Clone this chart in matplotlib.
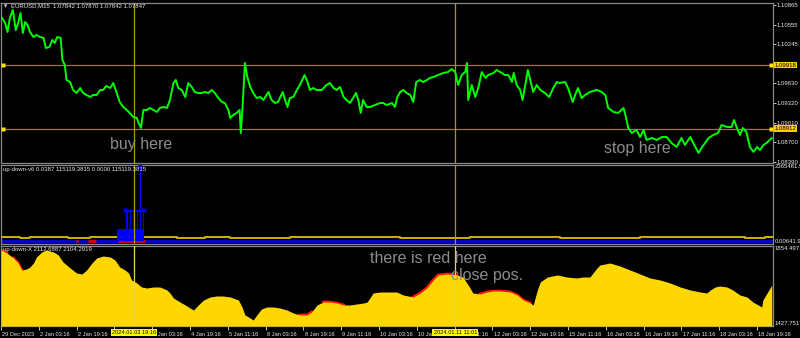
import matplotlib
matplotlib.use('Agg')
import matplotlib.pyplot as plt
import matplotlib.transforms as mtrans
import numpy as np

plt.rcParams['font.family'] = ['Liberation Sans', 'DejaVu Sans']

# ---------------- data ----------------
price_bars = [
    2, 7, 11, 15, 20, 25, 29, 33, 37, 41,
    45, 49, 55, 60, 66, 72, 76, 82, 87, 91,
    95, 101, 104, 108, 111, 117, 122, 128, 134, 139,
    145, 151, 156, 162, 168, 173, 178, 185, 190, 196,
    201, 207, 213, 218, 224, 230, 233, 237, 241, 247,
    252, 258, 264, 269, 275, 281, 286, 292, 296, 300,
    306, 312, 317, 323, 328, 334, 340, 345, 351, 357,
    362, 368, 374, 379, 385, 388, 393, 399, 404, 406,
    409, 413, 417, 422, 427, 433, 439, 444, 453, 458,
    464, 469, 477, 481, 485, 489, 495, 501, 506, 514,
    519, 523, 529, 534, 543, 551, 557, 563, 568, 574,
    580, 585, 591, 597, 601, 605, 609, 613, 619, 625,
    633, 642, 647, 653, 662, 667, 671, 676, 681, 687,
    693, 698, 703, 709, 715, 721, 726, 732, 740, 749,
    757, 763, 769, 774, 780, 786, 789, 791, 797, 803,
    808, 814, 820, 825, 834, 839, 848, 853, 859, 865,
    868, 873, 879, 883, 887, 892, 896, 901, 907, 913,
    921, 928, 935, 941, 946, 955, 960, 968, 972, 977,
    983, 989, 997, 1009, 1017, 1023, 1028, 1037, 1045, 1054,
    1058, 1062, 1068, 1076, 1082, 1088, 1093, 1102, 1110, 1119,
    1127, 1135, 1144, 1152, 1158, 1167, 1172, 1181, 1186, 1192,
    1198, 1206, 1214, 1220, 1229, 1237, 1241, 1246, 1251, 1256,
    1262, 1268, 1274, 1280, 1285, 1291, 1296, 1305]
price_vals = [
    1.10664, 1.10585, 1.10443, 1.10664, 1.10791, 1.10474, 1.10585, 1.10743, 1.10427, 1.10601,
    1.10553, 1.10443, 1.10363, 1.10395, 1.10363, 1.10348, 1.10189, 1.10205, 1.10316, 1.10268,
    1.10363, 1.10348, 1.09999, 1.09920, 1.09683, 1.09651, 1.09525, 1.09477, 1.09556, 1.09477,
    1.09446, 1.09414, 1.09446, 1.09446, 1.09525, 1.09525, 1.09588, 1.09556, 1.09635, 1.09477,
    1.09335, 1.09256, 1.09208, 1.09161, 1.09097, 1.09082, 1.09002, 1.08923, 1.09208, 1.09208,
    1.09240, 1.09208, 1.09177, 1.09240, 1.09256, 1.09240, 1.09366, 1.09635, 1.09683, 1.09556,
    1.09525, 1.09414, 1.09635, 1.09572, 1.09493, 1.09477, 1.09477, 1.09493, 1.09477, 1.09525,
    1.09477, 1.09398, 1.09335, 1.09319, 1.09208, 1.09082, 1.09129, 1.09161, 1.09208, 1.08844,
    1.09256, 1.09952, 1.09730, 1.09572, 1.09477, 1.09398, 1.09414, 1.09366, 1.09493, 1.09366,
    1.09319, 1.09335, 1.09493, 1.09366, 1.09256, 1.09398, 1.09414, 1.09525, 1.09604, 1.09762,
    1.09651, 1.09525, 1.09556, 1.09525, 1.09525, 1.09604, 1.09635, 1.09556, 1.09525, 1.09572,
    1.09414, 1.09366, 1.09319, 1.09414, 1.09477, 1.09366, 1.09161, 1.09366, 1.09256, 1.09256,
    1.09287, 1.09319, 1.09319, 1.09287, 1.09319, 1.09256, 1.09414, 1.09493, 1.09525, 1.09477,
    1.09446, 1.09335, 1.09651, 1.09683, 1.09651, 1.09683, 1.09715, 1.09730, 1.09762, 1.09794,
    1.09809, 1.09857, 1.09809, 1.09604, 1.09762, 1.09809, 1.09952, 1.09366, 1.09604, 1.09414,
    1.09556, 1.09809, 1.09715, 1.09762, 1.09794, 1.09841, 1.09794, 1.09762, 1.09762, 1.09651,
    1.09794, 1.09604, 1.09525, 1.09366, 1.09572, 1.09841, 1.09683, 1.09493, 1.09604, 1.09525,
    1.09477, 1.09414, 1.09556, 1.09651, 1.09635, 1.09651, 1.09556, 1.09335, 1.09446, 1.09556,
    1.09398, 1.09446, 1.09493, 1.09525, 1.09493, 1.09446, 1.09240, 1.09177, 1.09161, 1.09240,
    1.09097, 1.08923, 1.08844, 1.08892, 1.08781, 1.08892, 1.08734, 1.08765, 1.08734, 1.08781,
    1.08781, 1.08686, 1.08623, 1.08765, 1.08655, 1.08781, 1.08686, 1.08528, 1.08607, 1.08686,
    1.08765, 1.08813, 1.08844, 1.08971, 1.08939, 1.08939, 1.09050, 1.08923, 1.08813, 1.08923,
    1.08860, 1.08623, 1.08544, 1.08623, 1.08575, 1.08655, 1.08686, 1.08765]

price_ticks = [1.10865, 1.10555, 1.10245, 1.09630, 1.09320, 1.09010, 1.08700, 1.08390]
hlines_levels = [1.09918, 1.08912]
vline_bars = [225, 769]
vline_labels = ['2024.01.03 19:16', '2024.01.11 11:01']

# indicator 1 (up-down-v6)
yel_bars = [0, 32, 49, 113, 151, 298, 345, 388, 489, 675, 794, 946, 1082, 1260, 1293, 1306]
yel_vals = [115119, 78000, 115119, 78000, 115119, 78000, 115119, 78000, 115119, 90000,
            115119, 78000, 115119, 78000, 115119, 115119]
blue_level = 0.0387
sub1_red_ranges = [(127, 130), (147, 160), (198, 243)]
hist_low_bars = list(range(198, 241, 2))
hist_low_val = 373500
hist_tall_bars = [211, 213, 218, 224, 230, 235, 240]
hist_tall_val = 933750
spike_bar = 236
spike_val = 2303250
cap_range = (209, 242)
xmark_bars = [210, 242, 236]
xmark_vals = [950000, 950000, 2330000]

# indicator 2 (up-down-X)
x_bars = [
    0, 10, 21, 29, 35, 43, 49, 55, 60, 69,
    77, 89, 97, 105, 117, 128, 137, 145, 154, 162,
    173, 185, 193, 201, 210, 216, 221, 230, 238, 247,
    258, 269, 281, 286, 292, 303, 312, 320, 326, 334,
    343, 354, 365, 376, 388, 402, 408, 413, 419, 427,
    433, 441, 450, 461, 472, 484, 495, 506, 518, 526,
    535, 546, 557, 568, 580, 591, 602, 614, 620, 630,
    642, 659, 670, 681, 698, 710, 721, 732, 740, 755,
    772, 782, 791, 799, 811, 823, 833, 845, 862, 874,
    884, 896, 901, 908, 913, 925, 942, 958, 975, 985,
    997, 1009, 1014, 1031, 1048, 1065, 1082, 1099, 1116, 1133,
    1150, 1167, 1184, 1195, 1201, 1209, 1217, 1229, 1239, 1251,
    1263, 1273, 1282, 1288, 1290, 1297, 1305]
x_vals = [
    1833.2, 1817.2, 1790.5, 1763.8, 1726.5, 1731.8, 1742.5, 1763.8, 1795.8, 1822.5,
    1833.2, 1822.5, 1806.5, 1769.2, 1737.2, 1710.5, 1705.1, 1726.5, 1763.8, 1790.5,
    1801.2, 1795.8, 1779.8, 1742.5, 1726.5, 1710.5, 1673.1, 1657.1, 1635.8, 1630.5,
    1635.8, 1635.8, 1619.8, 1603.8, 1577.1, 1555.8, 1539.8, 1523.8, 1513.1, 1539.8,
    1566.5, 1582.5, 1587.8, 1587.8, 1582.5, 1566.5, 1529.1, 1486.5, 1475.8, 1459.8,
    1486.5, 1518.5, 1529.1, 1529.1, 1523.8, 1513.1, 1497.1, 1486.5, 1486.5, 1502.5,
    1539.8, 1555.8, 1555.8, 1550.5, 1539.8, 1539.8, 1545.1, 1550.5, 1555.8, 1603.8,
    1609.1, 1609.1, 1609.1, 1593.1, 1582.5, 1603.8, 1630.5, 1673.1, 1699.8, 1705.1,
    1699.8, 1689.1, 1646.5, 1603.8, 1598.5, 1609.1, 1614.5, 1614.5, 1609.1, 1593.1,
    1566.5, 1550.5, 1539.8, 1619.8, 1662.5, 1689.1, 1699.8, 1689.1, 1683.8, 1689.1,
    1689.1, 1737.2, 1753.2, 1763.8, 1747.8, 1726.5, 1705.1, 1683.8, 1673.1, 1657.1,
    1635.8, 1619.8, 1609.1, 1603.8, 1619.8, 1635.8, 1641.1, 1635.8, 1619.8, 1593.1,
    1582.5, 1555.8, 1539.8, 1529.1, 1566.5, 1603.8, 1646.5]
x_red_ranges = [(0, 12), (18, 37), (500, 530), (545, 580), (690, 775), (805, 900)]
x_max, x_min = 1854.4971, 1427.7517

time_tick_bars = list(range(0, 1281, 64))
time_labels = ['29 Dec 2023', '2 Jan 03:16', '2 Jan 19:16', '3 Jan 11:16', '4 Jan 03:16',
               '4 Jan 19:16', '5 Jan 11:16', '8 Jan 03:16', '8 Jan 19:16', '9 Jan 11:16',
               '10 Jan 03:16', '10 Jan 19:16', '11 Jan 11:16', '12 Jan 03:16', '12 Jan 19:16',
               '15 Jan 11:16', '16 Jan 03:16', '16 Jan 19:16', '17 Jan 11:16', '18 Jan 03:16',
               '18 Jan 19:16']

# ---------------- figure ----------------
W, H = 800, 338
fig = plt.figure(figsize=(W / 100, H / 100), dpi=100, facecolor='black')


def ax_px(x0, y0, x1, y1):
    a = fig.add_axes([x0 / W, 1 - y1 / H, (x1 - x0) / W, (y1 - y0) / H])
    a.set_facecolor('black')
    for s in a.spines.values():
        s.set_color('#8a8a8a')
        s.set_linewidth(0.9)
    return a


XL = (0, 1306.2)
ax1 = ax_px(1, 2.5, 772.5, 162.5)
ax2 = ax_px(1, 164.5, 772.5, 243.5)
ax3 = ax_px(1, 245.5, 772.5, 326)
for a in (ax1, ax2, ax3):
    a.set_xlim(*XL)
    a.set_xticks([])
    a.set_yticks([])

VCOL = '#B09A00'
HCOL = '#9A8000'
WHITE = '#e8e8e8'
SMALL = 4.3

# main price panel
ax1.set_ylim(1.083773, 1.109093)
ax1.plot(price_bars, price_vals, color='#00FF00', lw=1.4, zorder=3)
for lv in hlines_levels:
    ax1.axhline(lv, color=HCOL, lw=0.9, zorder=2)
    tr = mtrans.blended_transform_factory(ax1.transAxes, ax1.transData)
    ax1.plot([0.002, 0.998], [lv, lv], 's', ms=2.4, color='#FFE000', mec='none',
             transform=tr, clip_on=False, zorder=5)
    ax1.text(1.003, lv, f'{lv:.5f}', transform=tr, fontsize=SMALL, color='black',
             va='center', ha='left',
             bbox=dict(boxstyle='square,pad=0.12', fc='#FFCC00', ec='none'), zorder=6)
for vb in vline_bars:
    ax1.axvline(vb, color=VCOL, lw=0.9, zorder=2)
ax1.yaxis.tick_right()
ax1.set_yticks(price_ticks)
ax1.set_yticklabels([f'{t:.5f}' for t in price_ticks])
ax1.tick_params(axis='y', colors=WHITE, length=2, width=0.6, labelsize=SMALL, pad=0.6)

ax1.text(238, 1.08670, 'buy here', fontsize=11.5, color='#8c8c8c', ha='center', va='center', zorder=7)
ax1.text(1078, 1.08591, 'stop here', fontsize=11.5, color='#8c8c8c', ha='center', va='center', zorder=7)

# indicator 1
ax2.set_ylim(-77812, 2381062)
ax2.axhline(blue_level, color='#0000E0', lw=2.0, zorder=2)
for r0, r1 in sub1_red_ranges:
    ax2.hlines(blue_level, r0, r1, color='#E00000', lw=2.0, zorder=3)
ax2.step(yel_bars, yel_vals, where='post', color='#D4B000', lw=1.4, zorder=3)
ax2.vlines(hist_low_bars, 0, hist_low_val, color='#0000FF', lw=1.3, zorder=4)
ax2.vlines(hist_tall_bars, 0, hist_tall_val, color='#0000FF', lw=0.8, zorder=4)
ax2.vlines([spike_bar], 0, spike_val, color='#0000FF', lw=0.8, zorder=4)
ax2.hlines(hist_tall_val, cap_range[0], cap_range[1], color='#0000FF', lw=1.4, zorder=4)
ax2.plot(xmark_bars, xmark_vals, 'x', color='#0000FF', ms=3, mew=0.9, zorder=5)
for vb in vline_bars:
    ax2.axvline(vb, color=VCOL, lw=0.9, zorder=6)
tr2 = mtrans.blended_transform_factory(ax2.transAxes, ax2.transData)
ax2.text(1.003, 2381062, '2365481.9', transform=tr2, fontsize=SMALL, color=WHITE, va='top', ha='left')
ax2.text(1.003, 0, '0.00641.9', transform=tr2, fontsize=SMALL, color=WHITE, va='center', ha='left')

# indicator 2
ax3.set_ylim(x_min, 1857.2)
xb = np.array(x_bars)
xv = np.array(x_vals)
for r0, r1 in x_red_ranges:
    m = (xb >= r0) & (xb <= r1)
    ax3.plot(xb[m], xv[m], color='#FF1010', lw=2.0, zorder=2)
ax3.fill_between(xb, xv, x_min, color='#FFD700', lw=0, zorder=3)
for vb in vline_bars:
    ax3.axvline(vb, color='#E6D44A', lw=0.9, zorder=4)
tr3 = mtrans.blended_transform_factory(ax3.transAxes, ax3.transData)
ax3.text(1.003, 1857.2, f'{x_max:.4f}', transform=tr3, fontsize=SMALL, color=WHITE, va='top', ha='left')
ax3.text(1.003, x_min, f'{x_min:.4f}', transform=tr3, fontsize=SMALL, color=WHITE, va='bottom', ha='left')
ax3.text(723, 1790.5, 'there is red here', fontsize=11.5, color='#8c8c8c', ha='center', va='center', zorder=7)
ax3.text(823, 1699.8, 'close pos.', fontsize=11.5, color='#8c8c8c', ha='center', va='center', zorder=7)

# time axis
ax3.set_xticks(time_tick_bars)
ax3.set_xticklabels(time_labels)
ax3.tick_params(axis='x', colors=WHITE, length=3, width=0.6, labelsize=4.1, pad=1.0)
off = mtrans.ScaledTranslation(1.2 / 100, 0, fig.dpi_scale_trans)
for lab in ax3.get_xticklabels():
    lab.set_ha('left')
    lab.set_transform(lab.get_transform() + off)
trx = mtrans.blended_transform_factory(ax3.transData, ax3.transAxes)
for vb, vl in zip(vline_bars, vline_labels):
    ax3.text(vb, -0.05, vl, transform=trx, fontsize=4.1, color='black', ha='center', va='top',
             bbox=dict(boxstyle='square,pad=0.2', fc='#FFFF00', ec='none'), zorder=10, clip_on=False)

# panel titles
fig.text(4 / W, 1 - 6 / H, '▼', fontsize=3, color=WHITE, va='center', ha='left',
         family=['DejaVu Sans'])
fig.text(11 / W, 1 - 6 / H, 'EURUSD,M15  1.07842 1.07870 1.07842 1.07847', fontsize=SMALL,
         color=WHITE, va='center', ha='left')
fig.text(3 / W, 1 - 170 / H, 'up-down-v6 0.0387 115119.3815 0.0000 115119.3815', fontsize=SMALL,
         color=WHITE, va='center', ha='left')
fig.text(3 / W, 1 - 250 / H, 'up-down-X 2112.6887 2104.2919', fontsize=SMALL,
         color=WHITE, va='center', ha='left')

fig.savefig('out.png', dpi=100, facecolor='black')
